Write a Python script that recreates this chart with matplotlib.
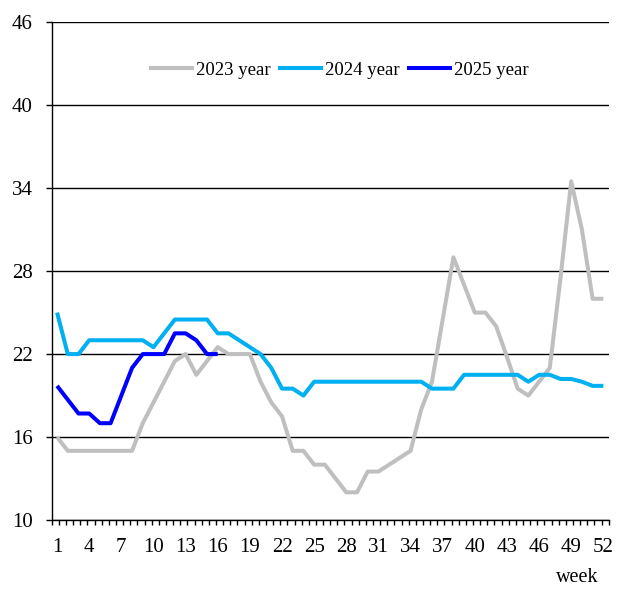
import matplotlib
matplotlib.use("Agg")
import matplotlib.pyplot as plt
import numpy as np

plt.rcParams["font.family"] = ["Liberation Serif", "DejaVu Serif"]

# ─── data ──────────────────────────────────────────────────────────
weeks = np.arange(1, 53)

y2023 = [16, 15, 15, 15, 15, 15, 15, 15, 17, 18.5, 20, 21.5, 22, 20.5, 21.5, 22.5,
         22, 22, 22, 20, 18.5, 17.5, 15, 15, 14, 14, 13, 12, 12, 13.5, 13.5, 14,
         14.5, 15, 18, 20, 24.5, 29, 27, 25, 25, 24, 21.8, 19.5, 19, 20, 21, 27.5,
         34.5, 31, 26, 26]
y2024 = [25, 22, 22, 23, 23, 23, 23, 23, 23, 22.5, 23.5, 24.5, 24.5, 24.5, 24.5, 23.5,
         23.5, 23, 22.5, 22, 21, 19.5, 19.5, 19, 20, 20, 20, 20, 20, 20, 20, 20,
         20, 20, 20, 19.5, 19.5, 19.5, 20.5, 20.5, 20.5, 20.5, 20.5, 20.5, 20, 20.5, 20.5, 20.2,
         20.2, 20, 19.7, 19.7]
y2025 = [19.7, 18.7, 17.7, 17.7, 17, 17, 19, 21, 22, 22, 22, 23.5, 23.5, 23, 22, 22]

series = [
    ("2023 year", y2023, "#BFBFBF"),
    ("2024 year", y2024, "#00B0F0"),
    ("2025 year", y2025, "#0000FF"),
]

yticks = [10, 16, 22, 28, 34, 40, 46]
xlabel_weeks = list(range(1, 53, 3))

# ─── figure ────────────────────────────────────────────────────────
fig = plt.figure(figsize=(6.33, 6.11), dpi=100)
ax = fig.add_axes([0.0817, 0.149, 0.9616 - 0.0817, 0.9635 - 0.149])

for label, vals, color in series:
    ax.plot(weeks[:len(vals)], vals, color=color, lw=2.9, label=label,
            solid_joinstyle="round", solid_capstyle="butt")

ax.set_xlim(0.5, 52.5)
ax.set_ylim(10, 46)
ax.set_yticks(yticks)
ax.yaxis.grid(True, color="black", lw=1)
ax.set_axisbelow(True)

ax.set_xticks(xlabel_weeks)
ax.set_xticks(np.linspace(0.5, 52.5, 79), minor=True)
ax.tick_params(axis="x", which="major", length=0, pad=13, labelsize=15)
ax.tick_params(axis="x", which="minor", length=3.8, width=1, direction="out")
ax.tick_params(axis="y", which="major", length=4.5, width=1, pad=9, labelsize=15)

for s in ("top", "right"):
    ax.spines[s].set_visible(False)
for s in ("left", "bottom"):
    ax.spines[s].set_linewidth(1)

ax.legend(loc="center", bbox_to_anchor=(0.516, 0.904), ncol=3, frameon=False,
          fontsize=13.5, handlelength=2.4, handletextpad=0.1, columnspacing=0.4)

fig.text(0.912, 0.0556, "week", fontsize=14.5, ha="center", va="center")

fig.savefig("out.png")
